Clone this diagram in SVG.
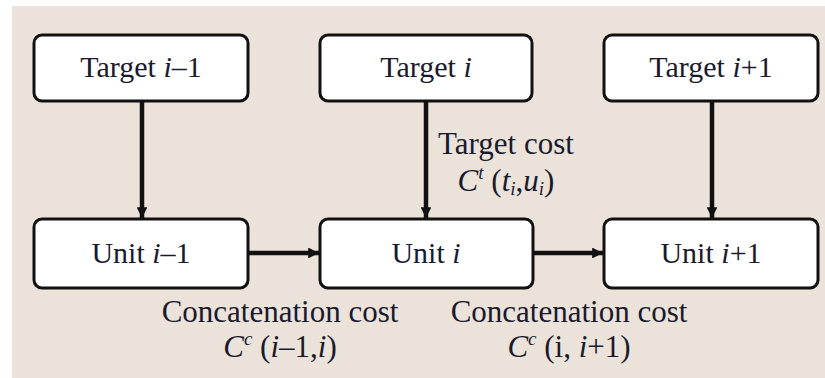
<svg xmlns="http://www.w3.org/2000/svg" width="825" height="378" viewBox="0 0 825 378">
  <style>
    .box { fill: #ffffff; stroke: #111111; stroke-width: 3; }
    .lbl { font-family: "Liberation Serif", "Times New Roman", serif; font-size: 30px; fill: #1a1a2e; text-anchor: middle; }
    .cost { font-family: "Liberation Serif", "Times New Roman", serif; font-size: 31px; fill: #1a1a2e; text-anchor: middle; }
    .edge { stroke: #111111; stroke-width: 4.5; fill: none; marker-end: url(#arrow); }
    .it { font-style: italic; }
  </style>
  <defs>
    <marker id="arrow" viewBox="0 0 10 10" refX="10" refY="5" markerWidth="2.8" markerHeight="2.4" markerUnits="strokeWidth" orient="auto">
      <path d="M0,0 L10,5 L0,10 z" fill="#111111"/>
    </marker>
  </defs>

  <!-- backdrop -->
  <rect x="12" y="6" width="813" height="372" fill="#ebe3d9"/>

  <!-- connectors -->
  <g id="connectors">
    <line class="edge" x1="142" y1="101" x2="142" y2="218"/>
    <line class="edge" x1="426" y1="101" x2="426" y2="218"/>
    <line class="edge" x1="712" y1="101" x2="712" y2="218"/>
    <line class="edge" x1="248" y1="253" x2="319" y2="253"/>
    <line class="edge" x1="533" y1="253" x2="603" y2="253"/>
  </g>

  <!-- target row -->
  <g id="target-prev">
    <rect class="box" x="34" y="35" width="214" height="66" rx="8"/>
    <text class="lbl" x="141" y="77">Target <tspan class="it">i</tspan>–1</text>
  </g>
  <g id="target-cur">
    <rect class="box" x="320" y="35" width="212" height="66" rx="8"/>
    <text class="lbl" x="426" y="77">Target <tspan class="it">i</tspan></text>
  </g>
  <g id="target-next">
    <rect class="box" x="604" y="35" width="214" height="66" rx="8"/>
    <text class="lbl" x="711" y="77">Target <tspan class="it">i</tspan>+1</text>
  </g>

  <!-- unit row -->
  <g id="unit-prev">
    <rect class="box" x="34" y="219" width="214" height="69" rx="8"/>
    <text class="lbl" x="141" y="263">Unit <tspan class="it">i</tspan>–1</text>
  </g>
  <g id="unit-cur">
    <rect class="box" x="320" y="219" width="213" height="69" rx="8"/>
    <text class="lbl" x="426" y="263">Unit <tspan class="it">i</tspan></text>
  </g>
  <g id="unit-next">
    <rect class="box" x="604" y="219" width="214" height="69" rx="8"/>
    <text class="lbl" x="711" y="263">Unit <tspan class="it">i</tspan>+1</text>
  </g>

  <!-- cost labels -->
  <g id="target-cost">
    <text class="cost" x="506" y="154">Target cost</text>
    <text class="cost" x="506" y="191"><tspan class="it">C</tspan><tspan class="it" font-size="19" dy="-12">t</tspan><tspan dy="12"> (</tspan><tspan class="it">t</tspan><tspan class="it" font-size="19" dy="4">i</tspan><tspan dy="-4">,</tspan><tspan class="it">u</tspan><tspan class="it" font-size="19" dy="4">i</tspan><tspan dy="-4">)</tspan></text>
  </g>
  <g id="concat-cost-prev">
    <text class="cost" x="280" y="322">Concatenation cost</text>
    <text class="cost" x="280" y="357"><tspan class="it">C</tspan><tspan class="it" font-size="19" dy="-12">c</tspan><tspan dy="12"> (</tspan><tspan class="it">i</tspan>–1,<tspan class="it">i</tspan>)</text>
  </g>
  <g id="concat-cost-next">
    <text class="cost" x="569" y="322">Concatenation cost</text>
    <text class="cost" x="569" y="357"><tspan class="it">C</tspan><tspan class="it" font-size="19" dy="-12">c</tspan><tspan dy="12"> (i, </tspan><tspan class="it">i</tspan>+1)</text>
  </g>
</svg>
